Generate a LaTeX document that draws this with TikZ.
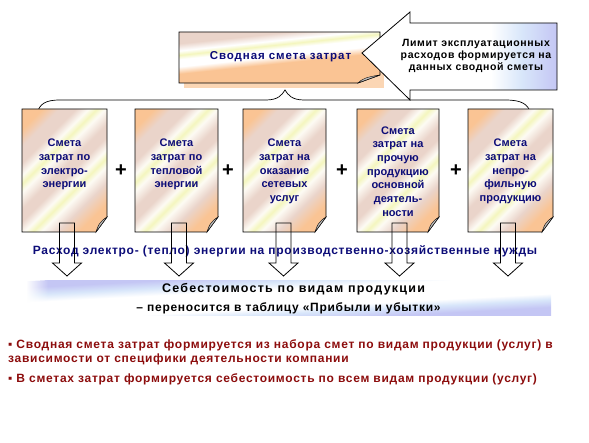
\documentclass[tikz,border=0pt]{standalone}
\usepackage{fontspec}
\setmainfont{Liberation Sans}
\newfontfamily\lsf[LetterSpace=6]{Liberation Sans}
\newfontfamily\lsfw[LetterSpace=8]{Liberation Sans}
\newfontfamily\lsfx[LetterSpace=10]{Liberation Sans}
\usetikzlibrary{calc,fadings}
\definecolor{peach}{RGB}{250,196,148}
\definecolor{pinkb}{RGB}{234,212,202}
\definecolor{ylw}{RGB}{244,246,190}
\definecolor{cream}{RGB}{253,251,244}
\definecolor{navyt}{RGB}{12,12,120}
\definecolor{redt}{RGB}{140,12,12}
\definecolor{lav}{RGB}{196,198,244}
\definecolor{lblue}{RGB}{216,230,250}
\definecolor{foldgray}{RGB}{192,192,192}
\pgfdeclarehorizontalshading{docstripes}{100bp}{color(0bp)=(peach); color(30bp)=(peach); color(34bp)=(pinkb); color(38bp)=(pinkb); color(41bp)=(cream); color(43bp)=(ylw); color(45bp)=(cream); color(49bp)=(pinkb); color(52bp)=(pinkb); color(55bp)=(cream); color(57bp)=(ylw); color(59bp)=(cream); color(63bp)=(pinkb); color(68bp)=(peach); color(100bp)=(peach)}
\pgfdeclarehorizontalshading{topstripes}{100bp}{color(0bp)=(pinkb); color(33bp)=(pinkb); color(38bp)=(white); color(41bp)=(ylw); color(44bp)=(white); color(49bp)=(white); color(54bp)=(peach); color(100bp)=(peach)}
\pgfdeclarehorizontalshading{callshade}{100bp}{color(0bp)=(white); color(58bp)=(white); color(66bp)=(lblue); color(75bp)=(lav); color(100bp)=(lav)}
\pgfdeclarehorizontalshading{bandshade}{100bp}{color(0bp)=(lav); color(30bp)=(lav); color(36bp)=(lblue); color(42bp)=(white); color(57bp)=(white); color(62bp)=(lblue); color(68bp)=(lav); color(100bp)=(lav)}
% stripes: center x, center y, angle, half-length across stripes, half-length along stripes, shading
\newcommand\stripefill[6]{%
  \begin{scope}[transform canvas={rotate around={#3:(#1,#2)}}]
    \shade[shading=#6] (#1-#4,#2-#5) rectangle (#1+#4,#2+#5);
  \end{scope}}
\newcommand\docshp[4]{%
  \pgfmathsetmacro\dcx{(#1+#3)/2}\pgfmathsetmacro\dcy{(#2+#4)/2}%
  \begin{scope}
    \clip (#1,#2) -- (#3,#2) -- (#3,#4-15) -- (#3-11,#4) -- (#1,#4) -- cycle;
    \stripefill{\dcx}{\dcy}{-45}{74}{80}{docstripes}
  \end{scope}
  \draw[outl] (#1,#2) -- (#3,#2) -- (#3,#4-15) -- (#3-11,#4) -- (#1,#4) -- cycle;
  \filldraw[fill=foldgray, draw=black, line width=0.4pt] (#3-11,#4) .. controls (#3-9,#4-6) and (#3-8,#4-10) .. (#3,#4-15) -- cycle;}
\newcommand\blockarrow[1]{%
  \draw[outl] (#1-7.5,223) -- (#1+7.5,223) -- (#1+7.5,263) -- (#1+14.5,263) -- (#1,276) -- (#1-14.5,263) -- (#1-7.5,263) -- cycle;}
\tikzset{
  outl/.style={draw=black, line width=0.8pt},
  doctext/.style={font=\bfseries\fontsize{11}{13.7}\selectfont, text=navyt, align=center, inner sep=0pt},
  plussign/.style={font=\bfseries\fontsize{20}{20}\selectfont, inner sep=0pt},
  redline/.style={font=\lsf\bfseries\fontsize{12}{14}\selectfont, text=redt, anchor=west, inner sep=0pt},
  bandtext/.style={font=\lsf\bfseries\fontsize{12}{14}\selectfont, inner sep=0pt},
}
\begin{document}
\begin{tikzpicture}[x=1pt,y=-1pt]
\useasboundingbox (0,0) rectangle (589,443);
% glow behind top box
\fill[peach, opacity=0.7] (184,37) rectangle (384,88);
% top box
\begin{scope}
  \clip (179,32) -- (380,32) -- (380,75) -- (358,83) -- (179,83) -- cycle;
  \stripefill{279.5}{57.5}{-84}{36}{110}{topstripes}
\end{scope}
\draw[outl] (179,32) -- (380,32) -- (380,75) -- (358,83) -- (179,83) -- cycle;
\filldraw[fill=foldgray, draw=black, line width=0.4pt] (358,83) .. controls (362,79) and (366,77) .. (380,75) -- cycle;
\node[font=\lsfw\bfseries\fontsize{11.5}{13}\selectfont, text=navyt, inner sep=0pt] (top) at (280.5,57) {Сводная смета затрат};
% callout
\shade[shading=callshade] (362,53) -- (410,12) -- (410,23) -- (557,23) -- (557,90) -- (410,90) -- (410,100) -- cycle;
\draw[outl] (362,53) -- (410,12) -- (410,23) -- (557,23) -- (557,90) -- (410,90) -- (410,100) -- cycle;
\node[font=\lsf\bfseries\fontsize{10.5}{12.2}\selectfont, align=center, inner sep=0pt] (limit) at (476,56) {Лимит эксплуатационных\\расходов формируется на\\данных сводной сметы};
% brace
\coordinate (bl) at (37,113);
\coordinate (bp) at (285,90);
\coordinate (br) at (531,114);
\draw[line width=0.7pt] (bl) .. controls (40,104) and (45,100) .. (60,100) -- (266,100) .. controls (278,100) and (282,95) .. (bp) .. controls (288,95) and (292,100) .. (304,100) -- (505,100) .. controls (522,100) and (528,104) .. (br);
% documents
\docshp{22}{109}{107}{232}
\docshp{135}{109}{218}{232}
\docshp{243}{109}{326}{232}
\docshp{357}{109}{439}{232}
\docshp{468}{109}{553}{232}
\node[doctext] (d1) at (64.5,164.5) {Смета\\затрат по\\электро-\\энергии};
\node[doctext] (d2) at (176.5,164.5) {Смета\\затрат по\\тепловой\\энергии};
\node[doctext] (d3) at (284.5,171.5) {Смета\\затрат на\\оказание\\сетевых\\услуг};
\node[doctext] (d4) at (398,171.5) {Смета\\затрат на\\прочую\\продукцию\\основной\\деятель-\\ности};
\node[doctext] (d5) at (510.5,171.5) {Смета\\затрат на\\непро-\\фильную\\продукцию};
\node[plussign] (p1) at (121,171) {+};
\node[plussign] (p2) at (228,171) {+};
\node[plussign] (p3) at (342,171) {+};
\node[plussign] (p4) at (456,171) {+};
% expense line
\node[font=\lsf\bfseries\fontsize{12}{14}\selectfont, text=navyt, inner sep=0pt] (rash) at (285,251) {Расход электро- (тепло) энергии на производственно-хозяйственные нужды};
% arrows
\blockarrow{67}
\blockarrow{179}
\blockarrow{283.5}
\blockarrow{399.5}
\blockarrow{508}
% band
\begin{scope}
  \clip (27,281) rectangle (551,316);
  \stripefill{289}{298.5}{-87}{31}{275}{bandshade}
\end{scope}
\fill[white, path fading=east] (26,280) rectangle (48,317);
\node[bandtext, font=\lsfx\bfseries\fontsize{12.5}{14}\selectfont] (cost1) at (293.5,289) {Себестоимость по видам продукции};
\node[bandtext] (cost2) at (288.5,308) {– переносится в таблицу «Прибыли и убытки»};
% bottom text
\node[redline] (b1) at (8,345) {▪ Сводная смета затрат формируется из набора смет по видам продукции (услуг) в};
\node[redline] (b2) at (8,359) {зависимости от специфики деятельности компании};
\node[redline] (b3) at (8,379) {▪ В сметах затрат формируется себестоимость по всем видам продукции (услуг)};
\end{tikzpicture}
\end{document}
